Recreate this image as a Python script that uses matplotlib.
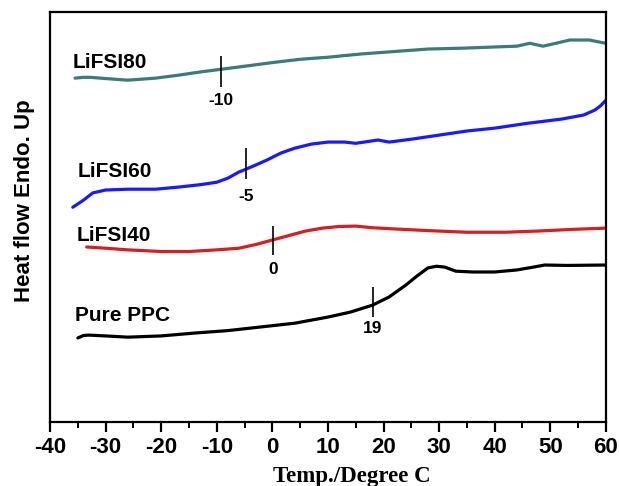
import matplotlib
matplotlib.use('Agg')
import matplotlib.pyplot as plt
from matplotlib.ticker import MultipleLocator

plt.rcParams['axes.unicode_minus'] = False

# DSC traces (arbitrary heat-flow units, endo up)
ppc_t = [-35, -34, -33, -30, -26, -20, -14, -8, -2, 4, 10, 14, 18, 21, 24, 26, 28, 29.5, 31, 33, 36, 40, 44, 47, 49, 53, 60]
ppc_h = [2.05, 2.11, 2.12, 2.10, 2.07, 2.10, 2.17, 2.23, 2.32, 2.41, 2.56, 2.68, 2.85, 3.05, 3.34, 3.56, 3.76, 3.80, 3.78, 3.68, 3.66, 3.66, 3.71, 3.78, 3.83, 3.82, 3.83]

l40_t = [-33.4, -30, -26, -20, -15, -10, -6, -3, 0, 3, 6, 9, 12, 15, 18, 22, 28, 35, 42, 48, 54, 60]
l40_h = [4.27, 4.24, 4.20, 4.16, 4.16, 4.20, 4.24, 4.33, 4.44, 4.55, 4.66, 4.73, 4.77, 4.78, 4.74, 4.71, 4.67, 4.63, 4.63, 4.66, 4.70, 4.73]

l60_t = [-35.9, -34, -32.3, -30, -26, -21, -17, -13, -10, -8, -6, -4.7, -3, -1, 1.5, 4, 7, 10, 13, 15, 17, 19, 21, 25, 30, 35, 40, 46, 52, 56, 58, 59, 60]
l60_h = [5.24, 5.41, 5.59, 5.66, 5.68, 5.68, 5.73, 5.79, 5.85, 5.95, 6.10, 6.17, 6.27, 6.39, 6.56, 6.68, 6.78, 6.83, 6.83, 6.80, 6.84, 6.88, 6.83, 6.90, 7.00, 7.10, 7.17, 7.29, 7.39, 7.49, 7.61, 7.71, 7.85]

l80_t = [-35.5, -34, -32.8, -30, -26, -21, -17, -13, -9, -5, 0, 5, 10, 16, 22, 28, 34, 40, 44, 46.3, 48.7, 51, 53.5, 57, 60]
l80_h = [8.39, 8.41, 8.41, 8.38, 8.34, 8.39, 8.46, 8.54, 8.61, 8.68, 8.77, 8.85, 8.90, 8.98, 9.04, 9.10, 9.12, 9.15, 9.17, 9.24, 9.17, 9.24, 9.32, 9.32, 9.24]

names = ['LiFSI80', 'LiFSI60', 'LiFSI40', 'Pure PPC']
colors = ['#3d7b78', '#1a1aff', '#d42020', 'black']
name_x = [-35.9, -35.0, -35.2, -35.5]
name_y = [8.78, 6.12, 4.56, 2.59]

# glass transition marks
tg_x = [-9.2, -4.7, 0.1, 18.1]
tg_lo = [8.17, 5.93, 4.07, 2.56]
tg_hi = [8.93, 6.68, 4.78, 3.29]
tg_text = ['-10', '-5', '0', '19']
tg_text_y = [7.85, 5.49, 3.71, 2.29]

fig = plt.figure(figsize=(6.19, 4.86), dpi=100)
ax = fig.add_axes([0.0808, 0.1317, 0.898, 0.8433])

series = [(l80_t, l80_h), (l60_t, l60_h), (l40_t, l40_h), (ppc_t, ppc_h)]
for (t, h), c in zip(series, colors):
    ax.plot(t, h, color=c, lw=2.3, solid_capstyle='round')

for i, n in enumerate(names):
    ax.text(name_x[i], name_y[i], n, fontsize=15, fontweight='bold',
            family='Liberation Sans', va='center', ha='left')

ax.vlines(tg_x, tg_lo, tg_hi, color='black', lw=1.2)
for i, s in enumerate(tg_text):
    ax.text(tg_x[i], tg_text_y[i], s, fontsize=12.5, fontweight='bold',
            family='Liberation Sans', ha='center', va='center')

ax.set_xlim(-40, 60)
ax.set_ylim(0, 10)
ax.xaxis.set_major_locator(MultipleLocator(10))
ax.xaxis.set_minor_locator(MultipleLocator(5))
ax.set_yticks([])
ax.tick_params(axis='x', which='major', direction='out', length=7, width=1.6,
               labelsize=16, pad=4)
ax.tick_params(axis='x', which='minor', direction='out', length=4, width=1.4)
for lab in ax.get_xticklabels():
    lab.set_fontweight('bold')
    lab.set_family('Liberation Sans')
for sp in ax.spines.values():
    sp.set_linewidth(1.6)

ax.set_xlabel('Temp./Degree C', fontsize=16.5, fontweight='bold',
              family='Liberation Serif')
ax.xaxis.set_label_coords(0.543, -0.108)
ax.set_ylabel('Heat flow Endo. Up', fontsize=16, fontweight='bold',
              family='Liberation Sans')
ax.yaxis.set_label_coords(-0.027, 0.54)

fig.savefig('out.png', dpi=100)
